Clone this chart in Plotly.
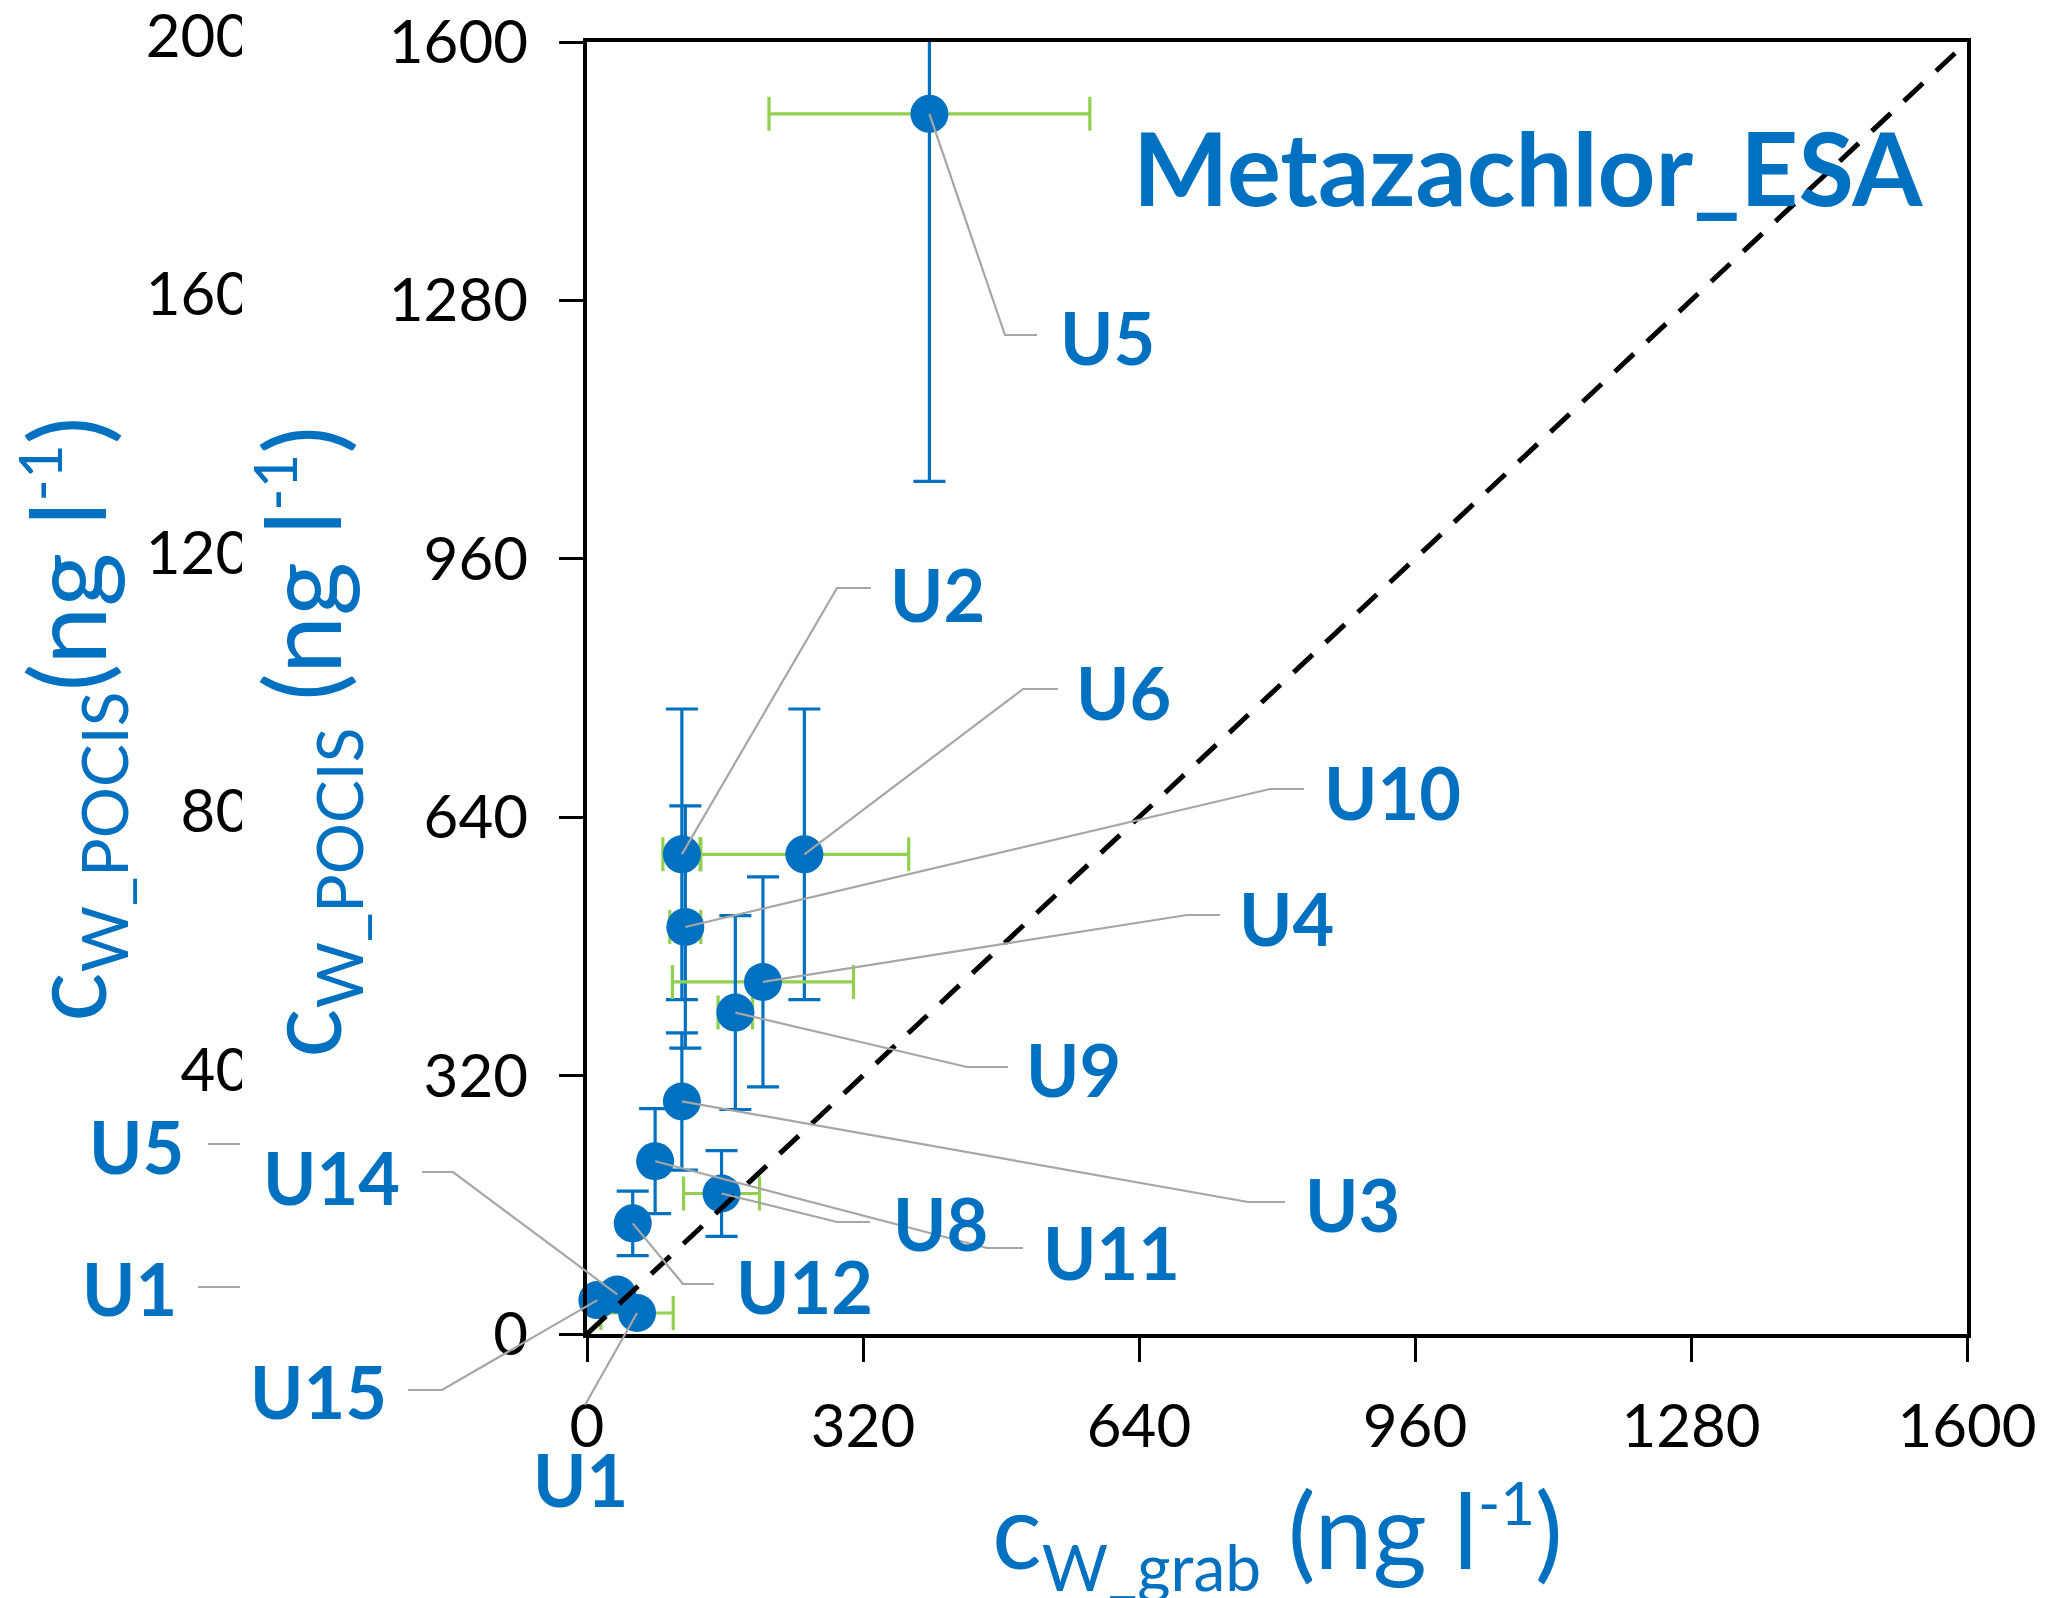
import plotly.graph_objects as go

# ---------------- data ----------------
sites = ["U5", "U2", "U6", "U10", "U4", "U9", "U3", "U8", "U11", "U12", "U14", "U15", "U1"]
grab = [397, 110, 252, 114, 204, 172, 110, 156, 79, 53, 35, 12, 58]          # c_W_grab (ng/l)
pocis = [1511, 594, 594, 504, 436, 398, 288, 174, 214, 137, 49, 42, 26]      # c_W_POCIS (ng/l)
pocis_err = [455, 180, 180, 150, 130, 120, 85, 53, 65, 40, 8, 8, 8]
grab_err = [186, 22, 121, 18, 105, 20, 0, 44, 10, 0, 0, 0, 42]

axis_ticks = [0, 320, 640, 960, 1280, 1600]
outer_ticks = [0, 400, 800, 1200, 1600, 2000]
outer_sites = ["U5", "U1"]
compound = "Metazachlor_ESA"

# ---------------- styling ----------------
BLUE = "#0070C0"
GREEN = "#92D050"
GREY = "#A6A6A6"
FONT = "Lato"

FIG_W, FIG_H = 2049, 1598
PLOT_L, PLOT_R, PLOT_T, PLOT_B = 587, 1967, 42, 1334
AX_MAX = 1600
OUTER_MAX = 2000
CLIP_R = 242          # right edge of the left-hand panel


def px(xp, yp):
    """pixel position -> paper fraction"""
    return xp / FIG_W, 1 - yp / FIG_H


def data_px(x, y):
    return (PLOT_L + x / AX_MAX * (PLOT_R - PLOT_L),
            PLOT_B - y / AX_MAX * (PLOT_B - PLOT_T))


# label placement: text anchor and leader geometry (pixels)
label_place = {
    "U5":  dict(side="right", tx=1058, ty=337, elbow=(1005, 335), end=1037),
    "U2":  dict(side="right", tx=888, ty=594, elbow=(837, 588), end=871),
    "U6":  dict(side="right", tx=1074, ty=692, elbow=(1023, 689), end=1058),
    "U10": dict(side="right", tx=1322, ty=792, elbow=(1270, 789), end=1304),
    "U4":  dict(side="right", tx=1237, ty=918, elbow=(1187, 915), end=1220),
    "U9":  dict(side="right", tx=1024, ty=1069, elbow=(967, 1067), end=1008),
    "U3":  dict(side="right", tx=1303, ty=1204, elbow=(1248, 1202), end=1285),
    "U8":  dict(side="right", tx=891, ty=1223, elbow=(837, 1222), end=870),
    "U11": dict(side="right", tx=1041, ty=1252, elbow=(987, 1248), end=1023),
    "U12": dict(side="right", tx=734, ty=1286, elbow=(683, 1284), end=714),
    "U14": dict(side="left", tx=402, ty=1177, elbow=(453, 1172), end=422),
    "U15": dict(side="left", tx=389, ty=1391, elbow=(442, 1390), end=408),
    "U1":  dict(side="below", tx=580, ty=1479, elbow=(585, 1405), end=None),
}
outer_place = {"U5": dict(tx=87, ty=1146, stub=(208, 1144)),
               "U1": dict(tx=80, ty=1288, stub=(198, 1287))}

fig = go.Figure()

# measured points with both error bars
fig.add_trace(go.Scatter(
    x=grab, y=pocis, mode="markers", text=sites,
    marker=dict(size=38, color=BLUE, line=dict(width=0)),
    error_y=dict(type="data", array=pocis_err, color=BLUE, thickness=3.2, width=16),
    error_x=dict(type="data", array=grab_err, color=GREEN, thickness=3.2, width=17),
    cliponaxis=False, showlegend=False, hoverinfo="text",
))

# 1:1 line
fig.add_trace(go.Scatter(
    x=[0, AX_MAX], y=[0, AX_MAX], mode="lines",
    line=dict(color="black", width=5, dash="26px,18px"),
    showlegend=False, hoverinfo="skip",
))

# tick labels of the neighbouring panel, cut at its edge
fig.add_trace(go.Scatter(
    x=[285] * len(outer_ticks), y=outer_ticks, mode="text",
    text=[str(v) for v in outer_ticks], textposition="middle left",
    textfont=dict(family=FONT, size=60, color="black"),
    xaxis="x2", yaxis="y2", cliponaxis=True, showlegend=False, hoverinfo="skip",
))

shapes = []
annotations = []

# leader lines and site labels
for name, gx, py_ in zip(sites, grab, pocis):
    p = label_place[name]
    cx, cy = data_px(gx, py_)
    ex, ey = p["elbow"]
    if p["side"] == "below":
        pts = [(ex, ey), (cx, cy)]
        xanchor = "center"
    else:
        pts = [(p["end"], ey), (ex, ey), (cx, cy)]
        xanchor = "left" if p["side"] == "right" else "right"
    path = "M " + " L ".join("%.5f,%.5f" % px(a, b) for a, b in pts)
    shapes.append(dict(type="path", xref="paper", yref="paper", path=path,
                       line=dict(color=GREY, width=2.2), layer="above"))
    ax_, ay_ = px(p["tx"], p["ty"])
    annotations.append(dict(x=ax_, y=ay_, xref="paper", yref="paper", text="<b>%s</b>" % name,
                            showarrow=False, xanchor=xanchor, yanchor="middle",
                            font=dict(family=FONT, size=72, color=BLUE)))

# labels of the neighbouring panel
for name in outer_sites:
    p = outer_place[name]
    sx, sy = p["stub"]
    x0, y0 = px(sx, sy)
    x1, _ = px(CLIP_R - 2, sy)
    shapes.append(dict(type="line", xref="paper", yref="paper", x0=x0, y0=y0, x1=x1, y1=y0,
                       line=dict(color=GREY, width=2.2)))
    ax_, ay_ = px(p["tx"], p["ty"])
    annotations.append(dict(x=ax_, y=ay_, xref="paper", yref="paper", text="<b>%s</b>" % name,
                            showarrow=False, xanchor="left", yanchor="middle",
                            font=dict(family=FONT, size=72, color=BLUE)))

# compound name
tx, ty = px(1131, 167)
annotations.append(dict(x=tx, y=ty, xref="paper", yref="paper", text="<b>%s</b>" % compound,
                        showarrow=False, xanchor="left", yanchor="middle",
                        font=dict(family=FONT, size=101, color=BLUE)))

# axis titles
SUB = '<sub><span style="font-size:64px">%s</span></sub>'
SUP = '<sup><span style="font-size:60px">-1</span></sup>'
title_x = 'c' + SUB % 'W_grab' + ' (ng l' + SUP + ')'
title_y = 'c' + SUB % 'W_POCIS' + ' (ng l' + SUP + ')'
title_y_outer = 'c' + SUB % 'W_POCIS' + '(ng l' + SUP + ')'
title_font = dict(family=FONT, size=104, color=BLUE)
tx, ty = px(990, 1535)
annotations.append(dict(x=tx, y=ty, xref="paper", yref="paper", text=title_x, showarrow=False,
                        xanchor="left", yanchor="middle", font=title_font))
tx, ty = px(307, 742)
annotations.append(dict(x=tx, y=ty, xref="paper", yref="paper", text=title_y, showarrow=False,
                        textangle=-90, xanchor="center", yanchor="middle", font=title_font))
tx, ty = px(72, 720)
annotations.append(dict(x=tx, y=ty, xref="paper", yref="paper", text=title_y_outer, showarrow=False,
                        textangle=-90, xanchor="center", yanchor="middle", font=title_font))

axis_style = dict(
    range=[0, AX_MAX], tickvals=axis_ticks, ticks="outside", ticklen=24, tickwidth=3,
    tickcolor="black", showline=True, linewidth=4, linecolor="black", mirror=True,
    showgrid=False, zeroline=False, automargin=False,
    tickfont=dict(family=FONT, size=60, color="black"),
)

# left-hand panel spans the full figure height so its top label is not cut vertically
outer_scale = (PLOT_B - PLOT_T) / OUTER_MAX
outer_range = [-(FIG_H - PLOT_B) / outer_scale, OUTER_MAX + PLOT_T / outer_scale]

fig.update_layout(
    template="none",
    width=FIG_W, height=FIG_H,
    margin=dict(l=0, r=0, t=0, b=0, pad=0, autoexpand=False),
    paper_bgcolor="white", plot_bgcolor="white",
    xaxis=dict(domain=[PLOT_L / FIG_W, PLOT_R / FIG_W], ticklabelstandoff=13, **axis_style),
    yaxis=dict(domain=[1 - PLOT_B / FIG_H, 1 - PLOT_T / FIG_H], ticklabelstandoff=19, **axis_style),
    xaxis2=dict(domain=[0, CLIP_R / FIG_W], range=[0, CLIP_R], visible=False, anchor="y2",
                automargin=False),
    yaxis2=dict(domain=[0, 1], range=outer_range, visible=False, anchor="x2", automargin=False),
    shapes=shapes, annotations=annotations, showlegend=False,
)

fig.write_html("out.html")
